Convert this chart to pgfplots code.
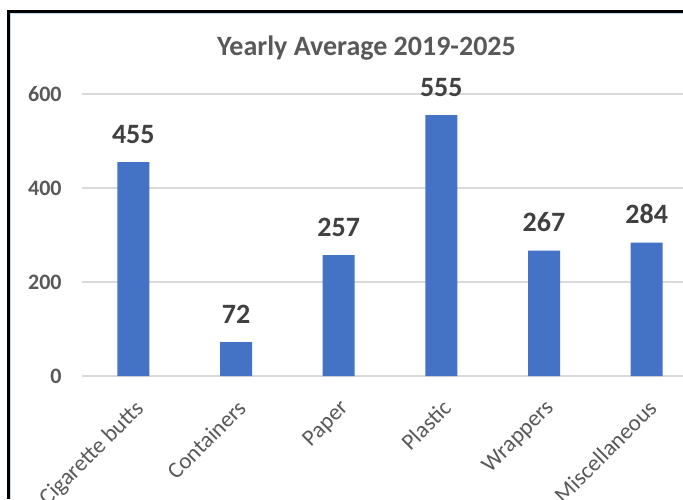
\documentclass[border=0pt]{standalone}
\usepackage{pgfplots}
\pgfplotsset{compat=1.18}
\usepackage{fontspec}
\setmainfont{Carlito}
\definecolor{barblue}{HTML}{4472C4}
\definecolor{gridgray}{HTML}{D9D9D9}
\definecolor{txtgray}{HTML}{595959}
\definecolor{lblgray}{HTML}{404040}
\definecolor{frameblue}{HTML}{BDD7EE}
\begin{document}
\begin{tikzpicture}
\useasboundingbox (0,0) rectangle (341.5pt,249.5pt);
\clip (0,0) rectangle (341.5pt,249.5pt);
\fill[white] (0,0) rectangle (341.5pt,249.5pt);
\begin{axis}[
  at={(41pt,61.5pt)}, anchor=south west,
  scale only axis, width=308pt, height=141pt,
  xmin=-0.5, xmax=5.5, ymin=0, ymax=600,
  ytick={0,200,400,600},
  xtick=data,
  xticklabels={Cigarette butts,Containers,Paper,Plastic,Wrappers,Miscellaneous},
  major tick length=0pt,
  ymajorgrids, grid style={draw=gridgray, line width=0.6pt},
  axis line style={draw=none},
  /pgf/number format/assume math mode=true,
  yticklabel style={font=\fontsize{11}{13}\selectfont\bfseries, text=txtgray, anchor=east, inner sep=0pt, xshift=-10pt},
  xticklabel style={font=\fontsize{11.5}{13}\selectfont, text=txtgray, yshift=-11pt, rotate=45, anchor=north east, inner sep=0pt},
  ybar, bar width=16pt,
  nodes near coords,
  nodes near coords style={font=\fontsize{14}{16}\selectfont\bfseries, text=lblgray, anchor=south, inner sep=0pt, yshift=9pt},
  /pgf/number format/.cd, fixed, precision=0,
]
\addplot[fill=barblue, draw=none] coordinates {(0,455) (1,72) (2,257) (3,555) (4,267) (5,284)};
\end{axis}
\node[anchor=base, font=\fontsize{14}{16}\selectfont\bfseries, text=txtgray] at (183.25pt,221.5pt) {Yearly Average 2019-2025};
\draw[frameblue, line width=0.5pt] (5.4pt,0) -- (5.4pt,242.6pt) -- (341.5pt,242.6pt);
\draw[black, line width=1.5pt] (4.25pt,0) -- (4.25pt,243.75pt) -- (341.5pt,243.75pt);
\end{tikzpicture}
\end{document}
